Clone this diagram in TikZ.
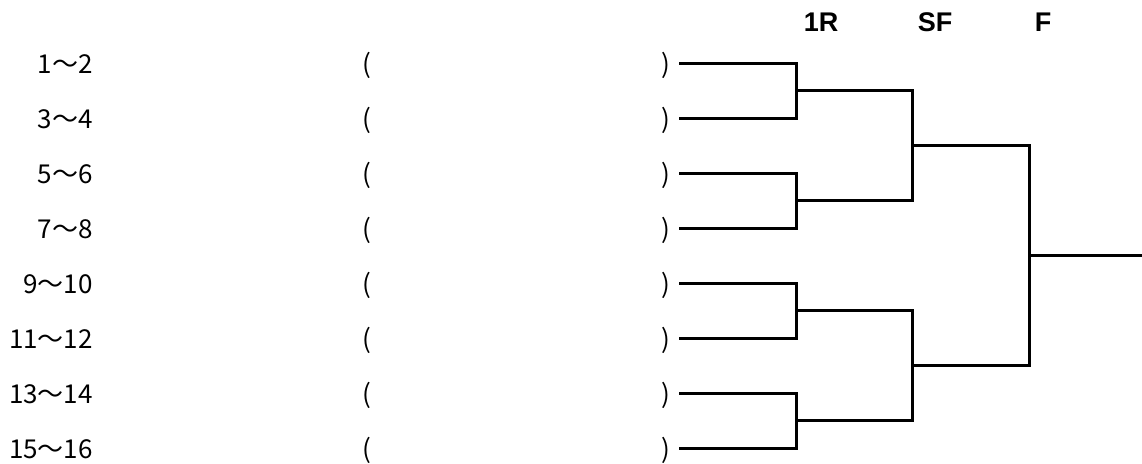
\documentclass[tikz,border=0pt]{standalone}
\usepackage{fontspec}
\newfontfamily\cjk{Noto Sans CJK JP}
\newfontfamily\hdrfont{Liberation Sans}
\tikzset{
  lbl/.style={anchor=east, inner sep=0pt, font=\cjk\fontsize{26}{26}\selectfont},
  par/.style={inner sep=0pt, font=\cjk\fontsize{26}{26}\selectfont},
  hdr/.style={inner sep=0pt, font=\hdrfont\bfseries\fontsize{27}{27}\selectfont},
  br/.style={line width=3pt, line join=miter},
}
\begin{document}
\begin{tikzpicture}[x=1pt,y=-1pt]
\useasboundingbox (0,0) rectangle (1142,463);
\foreach \i/\t in {1/1～2,2/3～4,3/5～6,4/7～8,5/9～10,6/11～12,7/13～14,8/15～16}{
  \pgfmathsetmacro{\yy}{63+55*(\i-1)}
  \node[lbl] (l\i) at (93,\yy+1) {\t};
  \node[par] (o\i) at (367,\yy+2) {(};
  \node[par] (c\i) at (666,\yy+2) {)};
  \coordinate (s\i) at (679,\yy);
}
\node[hdr] (h1R) at (821,22) {1R};
\node[hdr] (hSF) at (935,22) {SF};
\node[hdr] (hF) at (1043,22) {F};
\coordinate (q1) at (796,90.5);
\coordinate (q2) at (796,200.5);
\coordinate (q3) at (796,310.5);
\coordinate (q4) at (796,420.5);
\coordinate (m1) at (912,145.5);
\coordinate (m2) at (912,365.5);
\coordinate (fin) at (1029,255.5);
\coordinate (win) at (1142,255.5);
\draw[br] (s1) -| (q1) |- (s2);
\draw[br] (s3) -| (q2) |- (s4);
\draw[br] (s5) -| (q3) |- (s6);
\draw[br] (s7) -| (q4) |- (s8);
\draw[br] (q1) -| (m1) |- (q2);
\draw[br] (q3) -| (m2) |- (q4);
\draw[br] (m1) -| (fin) |- (m2);
\draw[br] (fin) -- (win);
\end{tikzpicture}
\end{document}
